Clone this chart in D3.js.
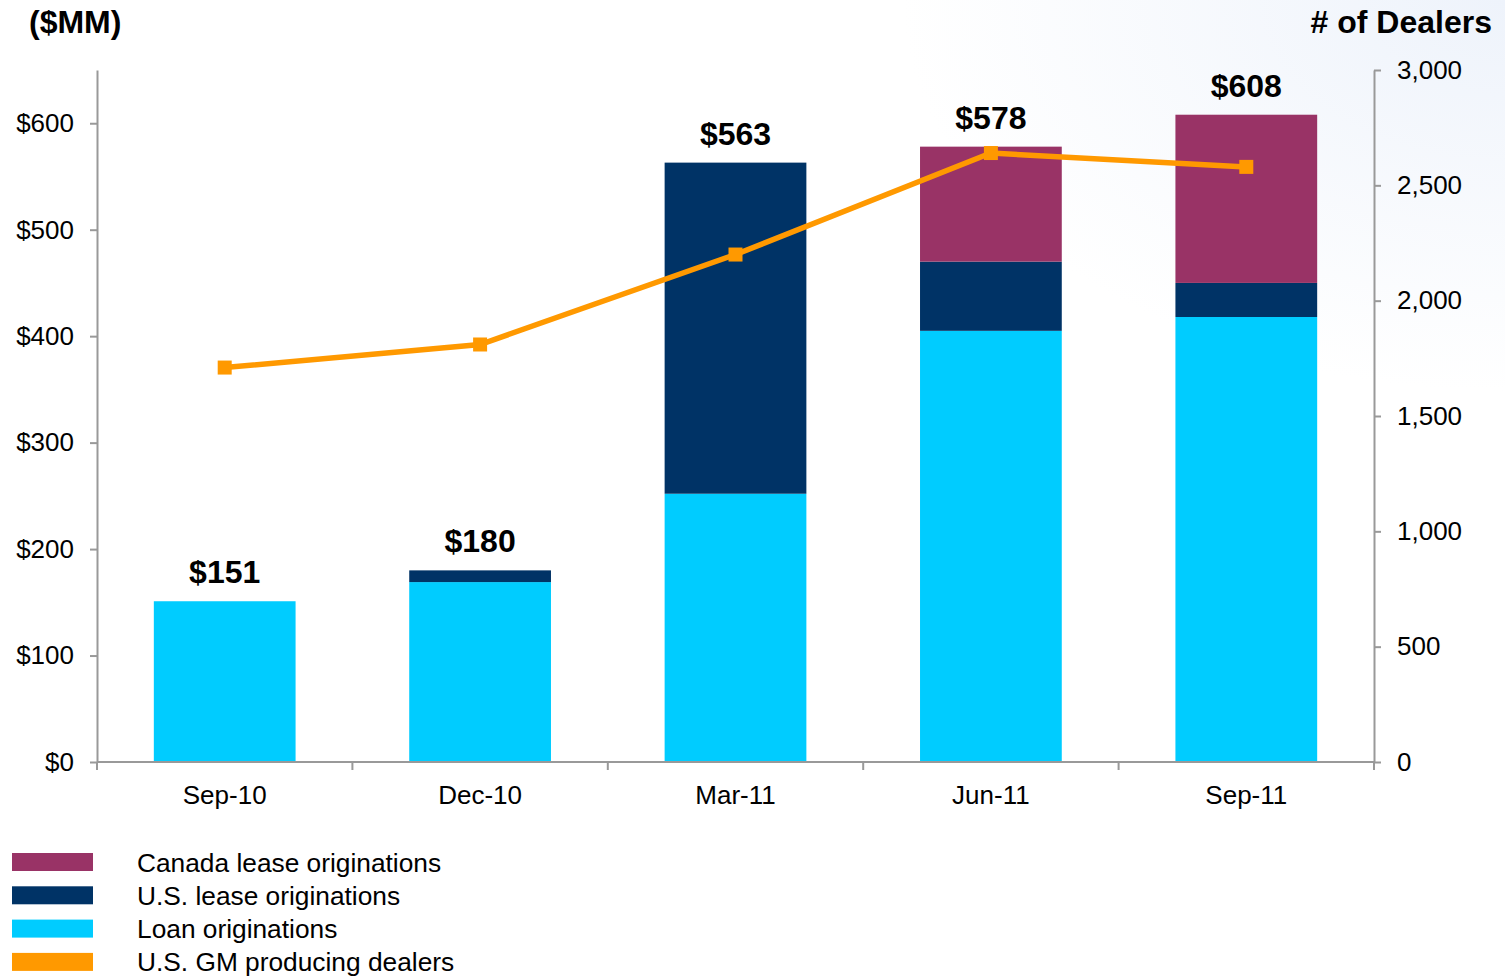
<!DOCTYPE html>
<html>
<head>
<meta charset="utf-8">
<script src="https://cdn.jsdelivr.net/npm/d3@7"></script>
<style>
  body { margin: 0; background: #fff; }
  svg { display: block; font-family: "Liberation Sans", Arial, sans-serif; }
</style>
</head>
<body>
<svg id="chart" width="1505" height="977"></svg>
<script>
// data
const categories = ['Sep-10', 'Dec-10', 'Mar-11', 'Jun-11', 'Sep-11'];
const loanOriginations = [151, 169, 252, 405, 418];
const usLeaseOriginations = [0, 11, 311, 65, 32];
const canadaLeaseOriginations = [0, 0, 0, 108, 158];
const gmDealers = [1710, 1810, 2200, 2640, 2580];
const leftTicks = [0, 100, 200, 300, 400, 500, 600];
const rightTicks = [0, 500, 1000, 1500, 2000, 2500, 3000];

const seriesKeys = ['loan', 'usLease', 'canada'];
const colors = { loan: '#00CCFF', usLease: '#003366', canada: '#993366', dealers: '#FF9900' };

const legendItems = [
    { label: 'Canada lease originations', color: colors.canada },
    { label: 'U.S. lease originations', color: colors.usLease },
    { label: 'Loan originations', color: colors.loan },
    { label: 'U.S. GM producing dealers', color: colors.dealers }
];

function chart(element) {
    const svg = d3.select(element);
    const width = +svg.attr('width');
    const margin = { top: 70, right: 131, bottom: 215, left: 97 };
    const bottomY = 762;
    const axisColor = '#999999';

    // very faint blue wash in the top corner, as on the slide
    const defs = svg.append('defs');
    const grad = defs.append('radialGradient')
        .attr('id', 'bgwash')
        .attr('cx', '100%').attr('cy', '0%').attr('r', '40%');
    grad.append('stop').attr('offset', '0%').attr('stop-color', '#eef3fb');
    grad.append('stop').attr('offset', '100%').attr('stop-color', '#ffffff');
    svg.append('rect').attr('width', width).attr('height', 977).attr('fill', 'url(#bgwash)');

    const table = categories.map((c, i) => ({
        cat: c,
        loan: loanOriginations[i],
        usLease: usLeaseOriginations[i],
        canada: canadaLeaseOriginations[i],
        dealers: gmDealers[i],
        total: loanOriginations[i] + usLeaseOriginations[i] + canadaLeaseOriginations[i]
    }));

    const x = d3.scaleBand()
        .domain(categories)
        .range([margin.left, width - margin.right])
        .paddingInner(0.445)
        .paddingOuter(0.2225);

    const y = d3.scaleLinear().domain([0, 650]).range([bottomY, margin.top]);
    const y2 = d3.scaleLinear().domain([0, 3000]).range([bottomY, margin.top]);

    //stacked bars
    const stacked = d3.stack().keys(seriesKeys)(table);
    svg.append('g')
        .selectAll('g')
        .data(stacked)
        .join('g')
        .attr('fill', d => colors[d.key])
        .selectAll('rect')
        .data(d => d)
        .join('rect')
        .attr('x', d => x(d.data.cat))
        .attr('width', x.bandwidth())
        .attr('y', d => y(d[1]))
        .attr('height', d => y(d[0]) - y(d[1]));

    // total labels
    svg.append('g')
        .selectAll('text')
        .data(table)
        .join('text')
        .attr('x', d => x(d.cat) + x.bandwidth() / 2)
        .attr('y', d => y(d.total) - 18)
        .attr('text-anchor', 'middle')
        .attr('font-size', 32)
        .attr('font-weight', 'bold')
        .attr('fill', '#000')
        .text(d => '$' + d.total);

    // left axis
    const leftAxis = svg.append('g')
        .attr('transform', `translate(${margin.left},0)`)
        .call(d3.axisLeft(y).tickValues(leftTicks).tickSize(7).tickSizeOuter(0).tickPadding(16)
            .tickFormat(d => '$' + d));

    // right axis
    const rightAxis = svg.append('g')
        .attr('transform', `translate(${width - margin.right},0)`)
        .call(d3.axisRight(y2).tickValues(rightTicks).tickSize(7).tickSizeOuter(0).tickPadding(16)
            .tickFormat(d3.format(',')));

    [leftAxis, rightAxis].forEach(a => {
        a.select('.domain').attr('stroke', axisColor).attr('stroke-width', 2);
        a.selectAll('.tick line').attr('stroke', axisColor).attr('stroke-width', 2);
        a.selectAll('.tick text')
            .attr('font-size', 26)
            .attr('fill', '#000')
            .attr('font-family', '"Liberation Sans", Arial, sans-serif');
    });

    // bottom axis: line, ticks on category boundaries, labels under bars
    const x0 = x.range()[0];
    const boundaries = d3.range(categories.length + 1).map(i => x0 + i * x.step());
    const bottom = svg.append('g');
    bottom.append('line')
        .attr('x1', x.range()[0]).attr('x2', x.range()[1])
        .attr('y1', bottomY).attr('y2', bottomY)
        .attr('stroke', axisColor).attr('stroke-width', 2);
    bottom.selectAll('line.bt')
        .data(boundaries)
        .join('line')
        .attr('class', 'bt')
        .attr('x1', d => d).attr('x2', d => d)
        .attr('y1', bottomY).attr('y2', bottomY + 8)
        .attr('stroke', axisColor).attr('stroke-width', 2);
    bottom.selectAll('text')
        .data(categories)
        .join('text')
        .attr('x', d => x(d) + x.bandwidth() / 2)
        .attr('y', 804)
        .attr('text-anchor', 'middle')
        .attr('font-size', 26)
        .attr('fill', '#000')
        .text(d => d);

    // dealers line
    const line = d3.line()
        .x(d => x(d.cat) + x.bandwidth() / 2)
        .y(d => y2(d.dealers));
    svg.append('path')
        .datum(table)
        .attr('fill', 'none')
        .attr('stroke', colors.dealers)
        .attr('stroke-width', 5.5)
        .attr('d', line);
    svg.append('g')
        .selectAll('rect')
        .data(table)
        .join('rect')
        .attr('x', d => x(d.cat) + x.bandwidth() / 2 - 7)
        .attr('y', d => y2(d.dealers) - 7)
        .attr('width', 14)
        .attr('height', 14)
        .attr('fill', colors.dealers);

    // axis titles
    svg.append('text')
        .attr('x', 29).attr('y', 33)
        .attr('font-size', 32).attr('font-weight', 'bold')
        .text('($MM)');
    svg.append('text')
        .attr('x', 1492).attr('y', 33)
        .attr('text-anchor', 'end')
        .attr('font-size', 32).attr('font-weight', 'bold')
        .text('# of Dealers');

    // legend
    const legend = svg.append('g')
        .selectAll('g')
        .data(legendItems)
        .join('g')
        .attr('transform', (d, i) => `translate(12,${853 + i * 33.3})`);
    legend.append('rect')
        .attr('width', 81).attr('height', 18)
        .attr('fill', d => d.color);
    legend.append('text')
        .attr('x', 125).attr('y', 18.5)
        .attr('font-size', 26.3)
        .attr('fill', '#000')
        .text(d => d.label);
}

chart(document.getElementById('chart'));
</script>
</body>
</html>
